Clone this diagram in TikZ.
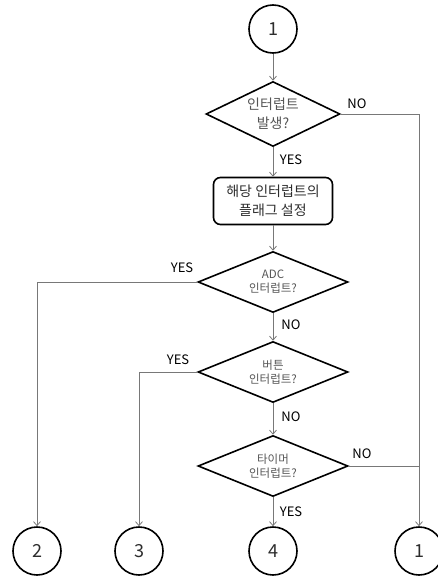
\documentclass[tikz,border=0pt]{standalone}
\usepackage{fontspec}
\setmainfont{Noto Sans CJK KR}
\usetikzlibrary{shapes.geometric,arrows.meta,positioning}
\definecolor{linegray}{RGB}{120,120,120}
\definecolor{txtgray}{RGB}{85,85,85}
\definecolor{boxtxt}{RGB}{45,45,45}
\tikzset{
  conn/.style={draw=linegray, line width=0.8pt},
  arr/.style={conn, -{Straight Barb[length=4pt,width=7pt]}},
  circ/.style={circle, draw=black, line width=1.6pt, minimum size=48pt, inner sep=0pt, font=\fontsize{18}{20}\selectfont, text=boxtxt},
  dia/.style={diamond, draw=black, line width=1.6pt, inner sep=0pt, aspect=2.1, align=center, text=txtgray},
  bigdia/.style={dia, minimum width=134pt, minimum height=65pt, font=\fontsize{14}{19}\selectfont},
  smalldia/.style={dia, minimum width=150pt, minimum height=61pt, font=\fontsize{11.5}{14}\selectfont},
  proc/.style={rectangle, rounded corners=7pt, draw=black, line width=1.6pt, minimum width=119pt, minimum height=47pt, align=center, inner sep=0pt, font=\fontsize{14}{19}\selectfont, text=boxtxt},
  lbl/.style={font=\fontsize{13}{15}\selectfont, text=black, inner sep=0pt}
}
\begin{document}
\begin{tikzpicture}[x=1pt,y=-1pt]
\useasboundingbox (0,0) rectangle (438,578);
\node[circ] (c1) at (273,29) {1};
\node[bigdia] (d1) at (273,114) {인터럽트\\발생?};
\node[proc] (box) at (273,201) {해당 인터럽트의\\플래그 설정};
\node[smalldia] (d2) at (273,282) {ADC\\인터럽트?};
\node[smalldia] (d3) at (273,372) {버튼\\인터럽트?};
\node[smalldia] (d4) at (273,466) {타이머\\인터럽트?};
\node[circ] (c2) at (37,551) {2};
\node[circ] (c3) at (139,551) {3};
\node[circ] (c4) at (273,551) {4};
\node[circ] (c5) at (419,551) {1};
\coordinate (j) at (c5.north |- d4.east);

\draw[arr] (c1) -- (d1);
\draw[arr] (d1) -- (box);
\draw[arr] (box) -- (d2);
\draw[arr] (d2) -- (d3);
\draw[arr] (d3) -- (d4);
\draw[arr] (d4) -- (c4);
\draw[arr] (d1.east) -| (c5.north);
\draw[arr] (d2.west) -| (c2.north);
\draw[arr] (d3.west) -| (c3.north);
\draw[conn] (d4.east) -- (j);

\node[lbl] (l1) at (357,104) {NO};
\node[lbl] (l2) at (291,160) {YES};
\node[lbl] (l3) at (182,268) {YES};
\node[lbl] (l4) at (291,325) {NO};
\node[lbl] (l5) at (178,360) {YES};
\node[lbl] (l6) at (291,417) {NO};
\node[lbl] (l7) at (362,454) {NO};
\node[lbl] (l8) at (291,512) {YES};
\end{tikzpicture}
\end{document}
